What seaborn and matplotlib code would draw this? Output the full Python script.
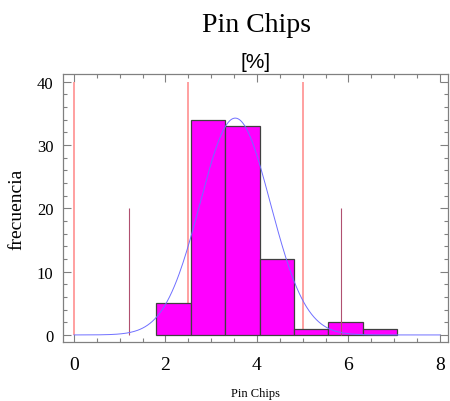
import numpy as np
import pandas as pd
import seaborn as sns
import matplotlib
matplotlib.use("Agg")
import matplotlib.pyplot as plt
from matplotlib.ticker import MultipleLocator

# histogram
bin_edges = [1.80, 2.55, 3.30, 4.06, 4.81, 5.56, 6.32, 7.06]
counts = [5, 34, 33, 12, 1, 2, 1]

# fitted normal
fit_mean = 3.525
fit_sd = 0.77

# spec lines (thick, to 40) and control lines (thin, to 20)
spec_x = [0.0, 2.5, 5.0]
spec_top = 40
ctrl_x = [1.21, 5.84]
ctrl_top = 20

sns.set_style("ticks")
plt.rcParams["font.family"] = ["Liberation Serif", "DejaVu Serif"]
plt.rcParams["text.color"] = "black"
plt.rcParams["axes.labelcolor"] = "black"
plt.rcParams["xtick.labelcolor"] = "black"
plt.rcParams["ytick.labelcolor"] = "black"

centers = [(a + b) / 2 for a, b in zip(bin_edges[:-1], bin_edges[1:])]
df = pd.DataFrame({"x": centers, "n": counts})

width = np.mean(np.diff(bin_edges))
xs = np.linspace(0, 8, 300)
ys = sum(counts) * width * np.exp(-0.5 * ((xs - fit_mean) / fit_sd) ** 2) / (fit_sd * np.sqrt(2 * np.pi))
curve = pd.DataFrame({"x": xs, "y": ys})

fig = plt.figure(figsize=(4.5, 4.02), dpi=100)
ax = fig.add_axes([0.14, 0.147, 0.856, 0.666])

sns.histplot(data=df, x="x", weights="n", bins=bin_edges, ax=ax,
             color="#ff00ff", alpha=1, edgecolor="#404040", linewidth=0.9, zorder=2)
ax.vlines(spec_x, 0, spec_top, color="#ffa0a0", linewidth=1.4, zorder=1)
ax.vlines(ctrl_x, 0, ctrl_top, color="#b05070", linewidth=0.8, zorder=3)
sns.lineplot(data=curve, x="x", y="y", ax=ax, color="#6f6fff", linewidth=0.7, zorder=4)

ax.set_xlim(-0.24, 8.18)
ax.set_ylim(-1.1, 41.2)
ax.xaxis.set_major_locator(MultipleLocator(2))
ax.xaxis.set_minor_locator(MultipleLocator(0.5))
ax.yaxis.set_major_locator(MultipleLocator(10))
ax.yaxis.set_minor_locator(MultipleLocator(2))
ax.tick_params(which="both", direction="in", top=True, right=True, color="#808080")
ax.tick_params(which="major", length=6, width=0.8)
ax.tick_params(which="minor", length=3, width=0.8)
ax.tick_params(axis="x", which="major", labelsize=14, pad=10)
ax.tick_params(axis="y", which="major", labelsize=12, pad=7)
for s in ax.spines.values():
    s.set_color("#808080")
    s.set_linewidth(0.9)

ax.set_xlabel("Pin Chips", fontsize=9, labelpad=10)
ax.set_ylabel("frecuencia", fontsize=14, labelpad=8)
fig.text(0.571, 0.937, "Pin Chips", fontsize=20, ha="center", va="center")
ax.set_title("[%]", fontsize=15, family=["Liberation Sans", "DejaVu Sans"], pad=5)

fig.savefig("out.png", dpi=100)
